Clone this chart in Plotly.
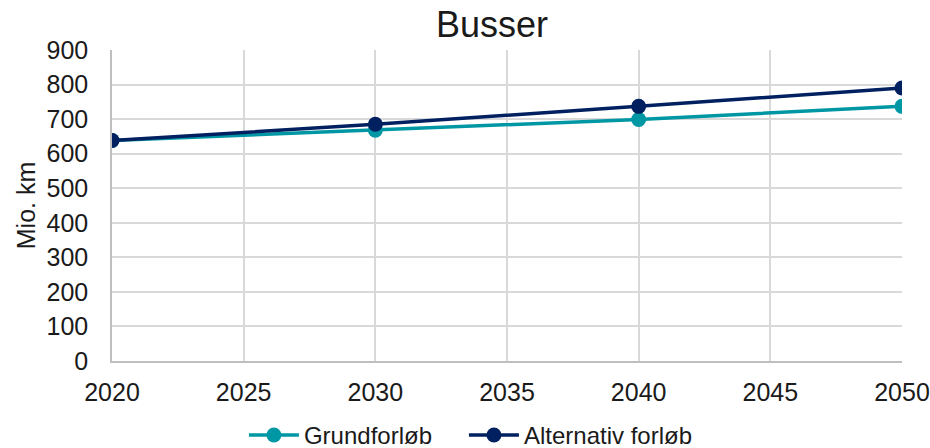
import plotly.graph_objects as go

years = [2020, 2030, 2040, 2050]
grundforloeb = [638, 668, 699, 737]
alternativ = [638, 685, 737, 790]

teal = "#0097a4"
navy = "#002060"
font_family = "Liberation Sans, Arial, sans-serif"

fig = go.Figure()
fig.add_trace(go.Scatter(
    x=years, y=grundforloeb, name="Grundforløb", mode="lines+markers",
    line=dict(color=teal, width=3.5), marker=dict(color=teal, size=15),
    legend="legend",
))
fig.add_trace(go.Scatter(
    x=years, y=alternativ, name="Alternativ forløb", mode="lines+markers",
    line=dict(color=navy, width=3.5), marker=dict(color=navy, size=15),
    legend="legend2",
))

legend_style = dict(orientation="h", xanchor="left", y=-0.239, yanchor="middle",
                    font=dict(size=24), itemwidth=50, bgcolor="rgba(0,0,0,0)")

fig.update_layout(
    width=930, height=448,
    margin=dict(l=112, r=28, t=49.5, b=86.5, autoexpand=False),
    paper_bgcolor="white", plot_bgcolor="white",
    font=dict(family=font_family, size=24, color="#1a1a1a"),
    title=dict(text="Busser", x=0.529, xref="container", xanchor="center",
               y=0.946, yref="container", yanchor="middle",
               font=dict(size=36, color="#1a1a1a")),
    showlegend=True,
    legend=dict(x=0.167, **legend_style),
    legend2=dict(x=0.4455, **legend_style),
    xaxis=dict(range=[2020, 2050], tickvals=[2020, 2025, 2030, 2035, 2040, 2045, 2050],
               showgrid=True, gridcolor="#d9d9d9", gridwidth=1.5,
               showline=True, linecolor="#bfbfbf", linewidth=2,
               zeroline=False, ticks="", ticklabelstandoff=8,
               tickfont=dict(size=25)),
    yaxis=dict(range=[0, 900], dtick=100, showgrid=True, gridcolor="#d9d9d9",
               gridwidth=1.5, showline=True, linecolor="#bfbfbf", linewidth=1.5,
               zeroline=False, ticks="", ticklabelstandoff=17,
               tickfont=dict(size=25),
               title=dict(text="Mio. km", standoff=4, font=dict(size=25))),
)

fig.write_html("out.html")
